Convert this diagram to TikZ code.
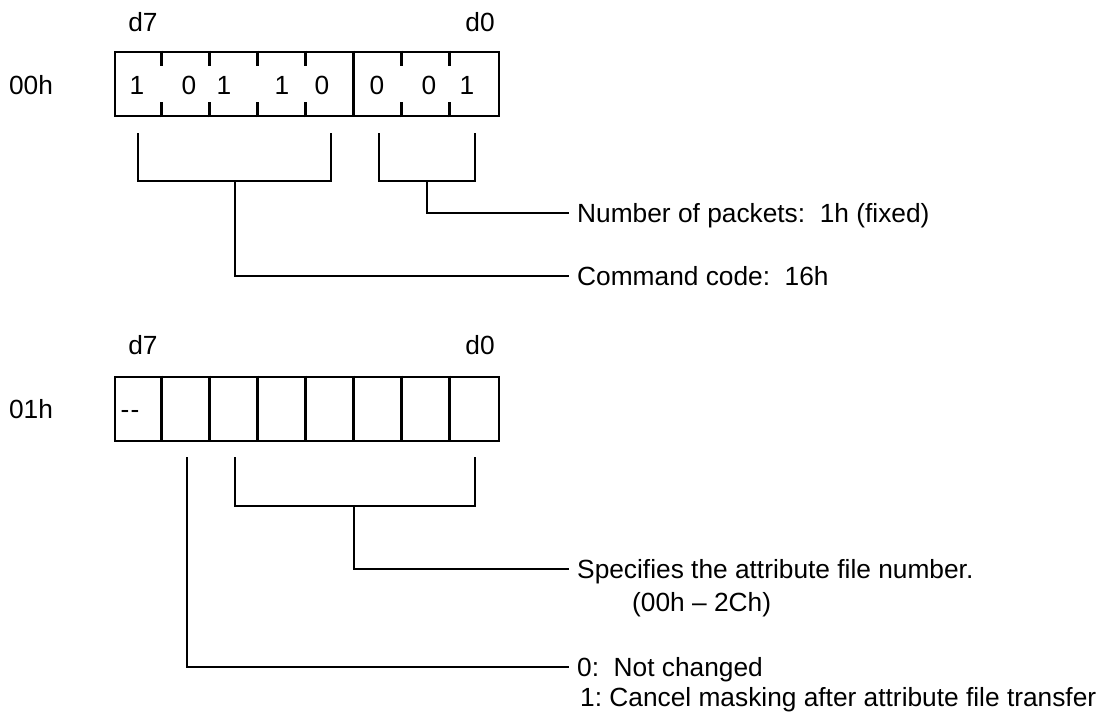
\documentclass[tikz,border=0pt]{standalone}
\usepackage{fontspec}
\setmainfont{Liberation Sans}
\usetikzlibrary{positioning,calc}
\frenchspacing
\tikzset{
  wire/.style   ={line width=2.8pt},
  reg/.style    ={draw, wire, minimum width=384pt, minimum height=64pt, inner sep=0pt},
  bit/.style    ={font=\fontsize{26.3}{31}\selectfont, inner sep=0pt},
  lbl/.style    ={anchor=west, inner xsep=8pt, inner ysep=0pt, text height=18.8pt,
                  text depth=0pt, font=\fontsize{26.3}{31}\selectfont},
}
\begin{document}
\begin{tikzpicture}[x=1pt,y=-1pt]
  \useasboundingbox (0,0) rectangle (1118,712);
  % byte 00h
  \node[bit] (a0)  at (31,85)  {00h};
  \node[bit] (a0h) at (143,22) {d7};
  \node[bit] (a0l) at (480,22) {d0};
  \node[reg] (r0)  at (307,84) {};
  \foreach \k in {1,2,3,4,6,7}{
    \draw[wire] ($(r0.north west)+(48*\k,0)$) -- ++(0,15);
    \draw[wire] ($(r0.south west)+(48*\k,0)$) -- ++(0,-15);}
  \draw[wire] ($(r0.north west)+(240,0)$) -- ($(r0.south west)+(240,0)$);
  \foreach \x/\d [count=\i] in {137/1,189/0,224/1,282/1,322/0,377/0,429/0,467/1}
    \node[bit] (t\i) at (\x,85) {\d};
  % byte 01h
  \node[bit] (a1)  at (31,409)  {01h};
  \node[bit] (a1h) at (143,345) {d7};
  \node[bit] (a1l) at (480,345) {d0};
  \node[reg] (r1)  at (307,409) {};
  \foreach \k in {1,...,7}
    \draw[wire] ($(r1.north west)+(48*\k,0)$) -- ($(r1.south west)+(48*\k,0)$);
  \node[bit] (u1) at (130,414) {-\kern1pt-};
  % labels
  \node[lbl] (pkt)  at (569,213) {Number of packets: \ 1h (fixed)};
  \node[lbl] (cmd)  at (569,276) {Command code: \ 16h};
  \node[lbl] (spec) at (569,569) {Specifies the attribute file number.};
  \node[lbl] (rng)  at (624,602) {(00h -- 2Ch)};
  \node[lbl] (nc)   at (569,667) {0: \ Not changed};
  \node[lbl] (cm)   at (572,697) {1: Cancel masking after attribute file transfer};
  % brackets
  \coordinate (c7) at (138,133); \coordinate (c3) at (331,133);
  \coordinate (c2) at (379,133); \coordinate (c0) at (475,133);
  \coordinate (cmdj) at (235,181); \coordinate (pktj) at (427,181);
  \draw[wire] (c7) -- ++(0,48) -| (c3);
  \draw[wire] (c2) -- ++(0,48) -| (c0);
  \draw[wire] (cmdj) |- (cmd.west);
  \draw[wire] (pktj) |- (pkt.west);
  \coordinate (e6) at (187,457);
  \coordinate (e5) at (235,457); \coordinate (e0) at (475,457);
  \coordinate (specj) at (354,506);
  \draw[wire] (e5) -- ++(0,49) -| (e0);
  \draw[wire] (specj) |- (spec.west);
  \draw[wire] (e6) |- (nc.west);
\end{tikzpicture}
\end{document}
